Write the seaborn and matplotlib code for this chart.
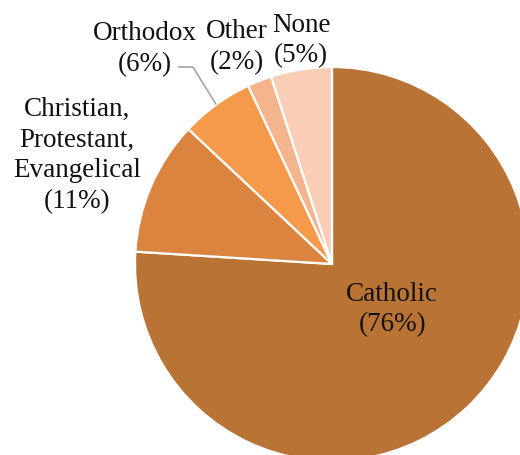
import numpy as np
import matplotlib
matplotlib.use("Agg")
import matplotlib.pyplot as plt
import seaborn as sns

sns.set_theme(style="white")
plt.rcParams["font.family"] = ["Liberation Serif", "DejaVu Serif"]

# Religious affiliation shares (percent)
categories = ["Catholic", "Christian,\nProtestant,\nEvangelical", "Orthodox", "Other", "None"]
shares = [76, 11, 6, 2, 5]
colors = ["#B97334", "#DB8440", "#F59A4A", "#F4B48D", "#F9CDB6"]

# label anchor points in pie units (radius = 1)
label_pos = [(0.305, -0.225), (-1.294, 0.556), (-0.949, 1.097), (-0.482, 1.107), (-0.157, 1.140)]

W, H = 520, 456
cx, cy, r = 332, 265, 197  # pie center and radius in pixels

fig = plt.figure(figsize=(W / 100, H / 100), dpi=100)
ax = fig.add_axes([0, 0, 1, 1])
ax.set_axis_off()

wedges, _ = ax.pie(shares, colors=colors, startangle=90, counterclock=False,
                   wedgeprops=dict(edgecolor="white", linewidth=1.6))

ax.set_xlim(-cx / r, (W - cx) / r)
ax.set_ylim(-(H - cy) / r, cy / r)
ax.set_aspect("equal")

for name, val, (tx, ty) in zip(categories, shares, label_pos):
    ax.text(tx, ty, f"{name}\n({val}%)", ha="center", va="center",
            fontsize=19.5, linespacing=1.29, color="#111111")

# leader line for the Orthodox slice
w = wedges[2]
mid = np.deg2rad((w.theta1 + w.theta2) / 2)
px, py = np.cos(mid), np.sin(mid)
ax.plot([-0.782, -0.706, px], [1.0, 1.0, py], color="#A6A6A6", lw=1.2,
        solid_capstyle="butt")

fig.savefig("out.png", dpi=100)
